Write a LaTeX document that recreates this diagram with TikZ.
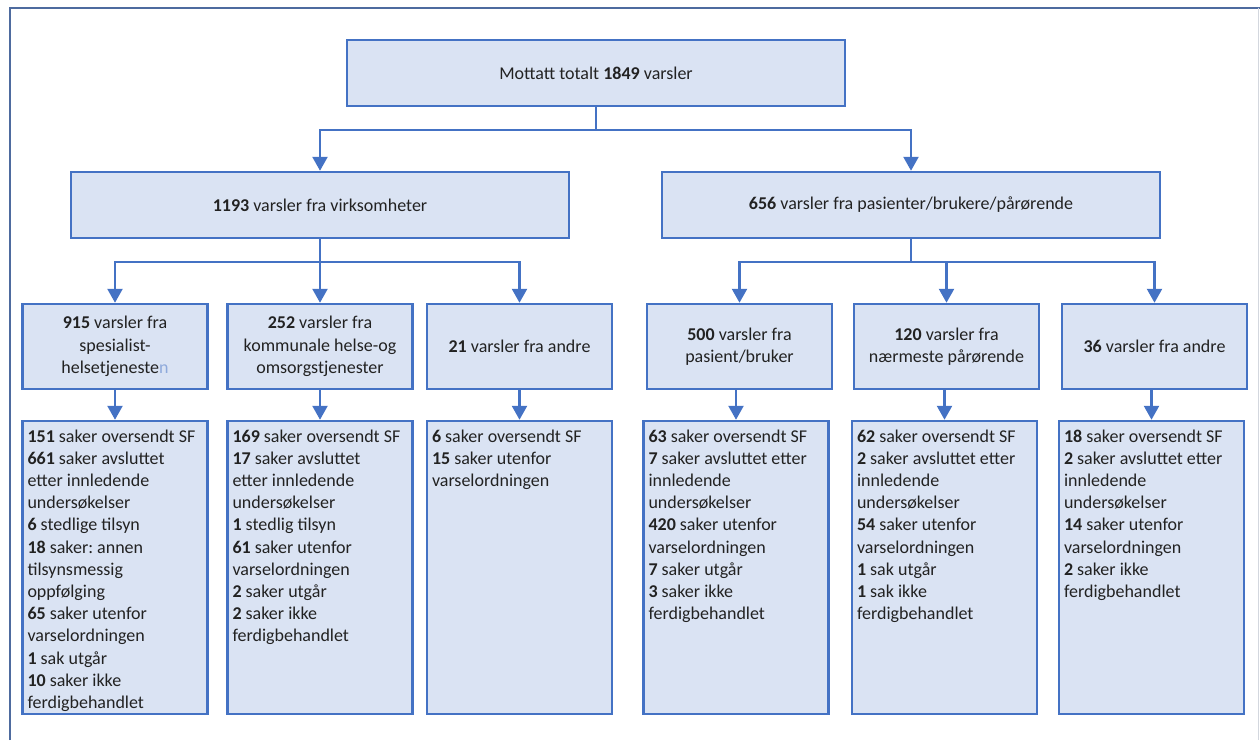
\documentclass[tikz,border=0pt]{standalone}
\usepackage{fontspec}
\setmainfont{Carlito}
\frenchspacing
\usetikzlibrary{arrows.meta}
\definecolor{bord}{HTML}{4472C4}
\definecolor{boxfill}{HTML}{DAE3F3}
\definecolor{frameblue}{HTML}{4E6B9F}
\definecolor{frameedge}{HTML}{D3D7DE}
\definecolor{txt}{HTML}{222222}
\definecolor{lightn}{HTML}{8EA9DB}
\tikzset{
  box/.style={draw=bord, fill=boxfill, line width=2.5pt, text=txt,
    font=\fontsize{18}{22.5}\selectfont, align=center, inner sep=0pt},
  widebox/.style={box, minimum width=498pt, minimum height=66pt},
  midbox/.style={box, minimum width=185pt, minimum height=85pt},
  tallbox/.style={box, minimum width=185pt, minimum height=293pt},
  conn/.style={draw=bord, line width=2.5pt},
  arr/.style={conn, -{Triangle[length=14pt,width=15pt]}},
}
\newcommand{\listbox}[1]{\parbox[c][276pt][t]{175pt}{\fontsize{18}{22.2}\selectfont\raggedright #1}}
\begin{document}
\begin{tikzpicture}[x=1pt,y=-1pt]
\useasboundingbox (0,0) rectangle (1260,740);
% outer frame
\draw[frameblue, line width=2pt] (9.5,740) -- (9.5,7.5) -- (1260,7.5);
\draw[frameedge, line width=1.5pt] (1258.5,7.5) -- (1258.5,740);

% level 1
\node[widebox] (T) at (596,73) {Mottatt totalt \textbf{1849} varsler};
% level 2
\node[widebox] (A) at (320,205) {\textbf{1193} varsler fra virksomheter};
\node[widebox] (B) at (911,205) {\textbf{656} varsler fra pasienter/brukere/pårørende};
% level 3
\node[midbox] (C1) at (115,346.5) {\textbf{915} varsler fra\\spesialist-\\helsetjeneste{\color{lightn}n}};
\node[midbox] (C2) at (320,346.5) {\textbf{252} varsler fra\\kommunale helse-og\\omsorgstjenester};
\node[midbox] (C3) at (519.5,346.5) {\textbf{21} varsler fra andre};
\node[midbox] (C4) at (739.5,346.5) {\textbf{500} varsler fra\\pasient/bruker};
\node[midbox] (C5) at (946.5,346.5) {\textbf{120} varsler fra\\nærmeste pårørende};
\node[midbox] (C6) at (1154.5,346.5) {\textbf{36} varsler fra andre};
% level 4
\node[tallbox] (D1) at (115,567.5) {\listbox{\textbf{151} saker oversendt SF\\\textbf{661} saker avsluttet\\etter innledende\\undersøkelser\\\textbf{6} stedlige tilsyn\\\textbf{18} saker: annen\\tilsynsmessig\\oppfølging\\\textbf{65} saker utenfor\\varselordningen\\\textbf{1} sak utgår\\\textbf{10} saker ikke\\ferdigbehandlet}};
\node[tallbox] (D2) at (320,567.5) {\listbox{\textbf{169} saker oversendt SF\\\textbf{17} saker avsluttet\\etter innledende\\undersøkelser\\\textbf{1} stedlig tilsyn\\\textbf{61} saker utenfor\\varselordningen\\\textbf{2} saker utgår\\\textbf{2} saker ikke\\ferdigbehandlet}};
\node[tallbox] (D3) at (519.5,567.5) {\listbox{\textbf{6} saker oversendt SF\\\textbf{15} saker utenfor\\varselordningen}};
\node[tallbox] (D4) at (736,567.5) {\listbox{\textbf{63} saker oversendt SF\\\textbf{7} saker avsluttet etter\\innledende\\undersøkelser\\\textbf{420} saker utenfor\\varselordningen\\\textbf{7} saker utgår\\\textbf{3} saker ikke\\ferdigbehandlet}};
\node[tallbox] (D5) at (944.5,567.5) {\listbox{\textbf{62} saker oversendt SF\\\textbf{2} saker avsluttet etter\\innledende\\undersøkelser\\\textbf{54} saker utenfor\\varselordningen\\\textbf{1} sak utgår\\\textbf{1} sak ikke\\ferdigbehandlet}};
\node[tallbox] (D6) at (1151.5,567.5) {\listbox{\textbf{18} saker oversendt SF\\\textbf{2} saker avsluttet etter\\innledende\\undersøkelser\\\textbf{14} saker utenfor\\varselordningen\\\textbf{2} saker ikke\\ferdigbehandlet}};

% connectors level 1 -> 2
\coordinate (j1) at (596,130);
\draw[conn] (T.south) -- (j1);
\draw[arr] (j1) -| (A.north);
\draw[arr] (j1) -| (B.north);
% level 2 -> 3
\coordinate (j2) at (320,262);
\coordinate (j3) at (911,262);
\draw[conn] (A.south) -- (j2);
\draw[arr] (j2) -| (C1.north);
\draw[arr] (j2) -- (C2.north);
\draw[arr] (j2) -| (C3.north);
\draw[conn] (B.south) -- (j3);
\draw[arr] (j3) -| (C4.north);
\draw[arr] (j3) -| (C5.north);
\draw[arr] (j3) -| (C6.north);
% level 3 -> 4
\foreach \i in {1,...,6}{
  \draw[arr] (D\i.north |- C\i.south) -- (D\i.north);
}
\end{tikzpicture}
\end{document}
